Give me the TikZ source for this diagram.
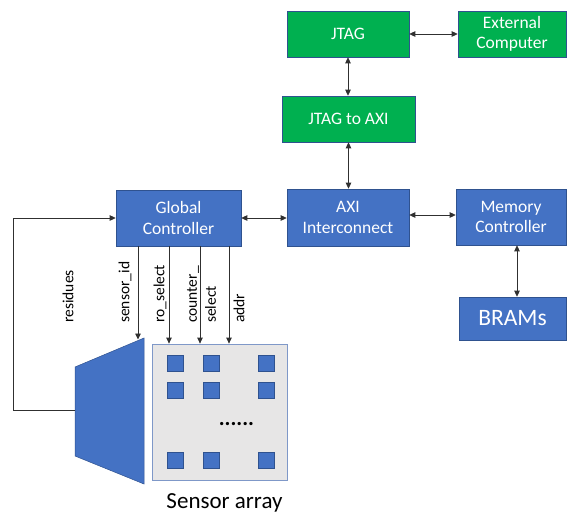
\documentclass[tikz,border=0pt]{standalone}
\usepackage{fontspec}
\setmainfont{Carlito}
\usetikzlibrary{arrows.meta,calc}
\definecolor{blk}{HTML}{4472C4}
\definecolor{grn}{HTML}{00B050}
\definecolor{edge}{HTML}{2F528F}
\definecolor{arrbg}{HTML}{E7E6E6}
\definecolor{arredge}{HTML}{7F98C8}
\definecolor{wire}{HTML}{303030}
\begin{document}
\begin{tikzpicture}[x=1pt,y=-1pt,
  box/.style={draw=edge,line width=0.6pt,text=white,align=center,inner sep=0pt,
    font=\fontsize{17.5}{20.5}\selectfont},
  bluebox/.style={box,fill=blk},
  greenbox/.style={box,fill=grn},
  link/.style={draw=wire,line width=0.8pt,{Triangle[length=6pt,width=5.5pt]}-{Triangle[length=6pt,width=5.5pt]}},
  sig/.style={draw=wire,line width=0.8pt,-{Triangle[length=6pt,width=5.5pt]}},
  siglabel/.style={rotate=90,anchor=west,font=\fontsize{15.5}{19}\selectfont,align=left,inner sep=0pt},
  cell/.style={fill=blk,draw=edge,line width=0.5pt,minimum size=16pt,inner sep=0pt}]
\useasboundingbox (0,0) rectangle (568,515);

% FPGA / host side blocks
\node[greenbox,minimum width=122pt,minimum height=46pt] (jtag) at (348,34) {JTAG};
\node[greenbox,minimum width=108pt,minimum height=46pt] (ext) at (512,34) {External\\Computer};
\node[greenbox,minimum width=133pt,minimum height=46pt] (j2a) at (348.5,119) {JTAG to AXI};
\node[bluebox,minimum width=122pt,minimum height=57pt] (axi) at (348,217.5) {AXI\\Interconnect};
\node[bluebox,minimum width=110pt,minimum height=56pt] (mem) at (511,217) {Memory\\Controller};
\node[bluebox,minimum width=107pt,minimum height=43pt,font=\fontsize{23.5}{27}\selectfont] (brams) at (512.5,318.5) {BRAMs};
\node[bluebox,minimum width=125pt,minimum height=56pt] (gc) at (178.5,218) {Global\\Controller};

% sensor array with its cells
\node[fill=arrbg,draw=arredge,line width=0.8pt,minimum width=135pt,minimum height=136pt,inner sep=0pt] (sa) at (219.5,412) {};
\foreach \cx/\cy [count=\i] in {175.5/363,211/363,266.5/363,175.5/390,211/390,266.5/390,175.5/460,211/460,266.5/460}
  \node[cell] (c\i) at (\cx,\cy) {};
\node[font=\bfseries\fontsize{22}{24}\selectfont,inner sep=0pt] (dots) at (236.5,424) {......};
\node[anchor=base,font=\fontsize{23}{26}\selectfont,inner sep=0pt] (salabel) at (224.5,508) {Sensor array};

% readout multiplexer (trapezoid)
\coordinate (ta) at (75,367);
\coordinate (tb) at (144,338);
\coordinate (tc) at (144,484);
\coordinate (td) at (75,456);
\filldraw[fill=blk,draw=edge,line width=0.5pt] (ta) -- (tb) -- (tc) -- (td) -- cycle;
\coordinate (rsd) at (75,410);
\coordinate (muxin) at (138,339.5);

% bidirectional links
\draw[link] (jtag.east) -- (ext.west);
\draw[link] (jtag.south) -- (j2a.north -| jtag.south);
\draw[link] (j2a.south) -- (axi.north -| j2a.south);
\draw[link] (gc.east) -- (gc.east -| axi.west);
\coordinate (am) at (0,215);
\draw[link] (axi.east |- am) -- (mem.west |- am);
\coordinate (mb) at (517,0);
\draw[link] (mem.south -| mb) -- (brams.north -| mb);

% control signals from the global controller
\coordinate (s1) at (138,0);
\coordinate (s2) at (169,0);
\coordinate (s3) at (200,0);
\coordinate (s4) at (229,0);
\draw[sig] (gc.south -| s1) -- (muxin);
\draw[sig] (gc.south -| s2) -- (sa.north -| s2);
\draw[sig] (gc.south -| s3) -- (sa.north -| s3);
\draw[sig] (gc.south -| s4) -- (sa.north -| s4);

% residues feedback
\draw[sig] (rsd) -- ++(-62,0) |- (gc.west);

% signal labels
\node[siglabel] (lres) at (68,323) {residues};
\node[siglabel] (lsid) at (125,323) {sensor\_id};
\node[siglabel] (lro) at (160,323) {ro\_select};
\node[siglabel] (lcnt) at (201.5,323) {counter\_\\select};
\node[siglabel] (laddr) at (239,323) {addr};
\end{tikzpicture}
\end{document}
